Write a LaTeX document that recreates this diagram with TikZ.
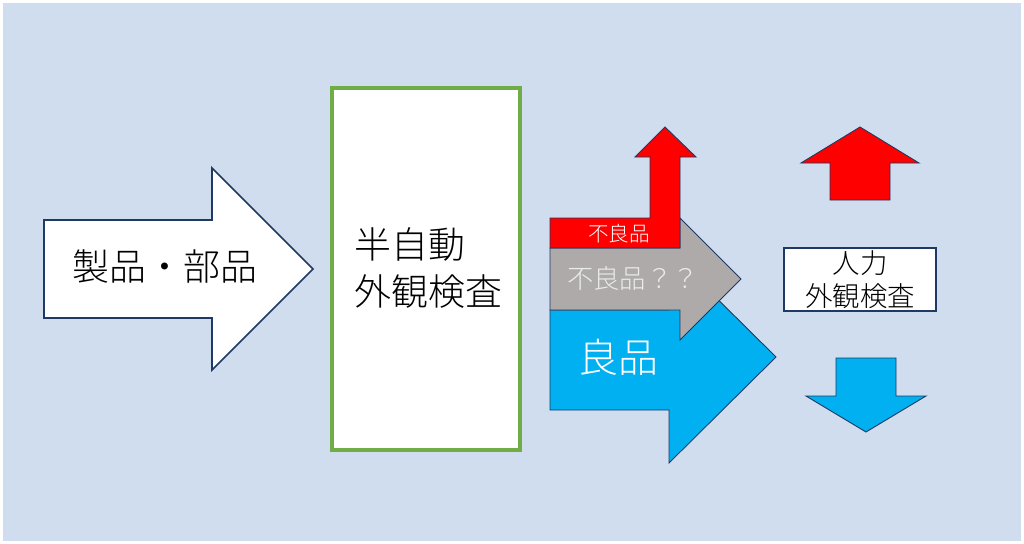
\documentclass[tikz,border=0pt]{standalone}
\usepackage{fontspec}
\setmainfont{Noto Sans CJK JP}[UprightFont=* Light]
\usepackage{tikz}
\usetikzlibrary{positioning}
\definecolor{bgblue}{RGB}{207,221,239}
\definecolor{navy}{RGB}{31,56,100}
\definecolor{okgreen}{RGB}{112,173,71}
\definecolor{okblue}{RGB}{0,176,240}
\definecolor{ngred}{RGB}{255,0,0}
\definecolor{qgray}{RGB}{174,170,170}
\tikzset{
  every picture/.append style={line join=miter},
  blockarrow/.style={draw=navy, line width=0.5pt},
  label/.style={inner sep=0pt, align=center}
}
\begin{document}
\begin{tikzpicture}[
  x=0.02cm, y=-0.02cm,
  frame/.style={draw=okgreen, line width=2.2pt, fill=white, minimum width=188*0.02cm, minimum height=362*0.02cm, inner sep=0pt},
  manual/.style={draw=navy, line width=1.2pt, fill=white, minimum width=152*0.02cm, minimum height=63*0.02cm, inner sep=0pt}
]
% background
\fill[white] (0,0) rectangle (1024,544);
\fill[bgblue] (3,3) rectangle (1021,541);

% input arrow
\draw[blockarrow, fill=white, line width=1pt]
  (44,220) -- (212,220) -- (212,168) -- (313,269) -- (212,370) -- (212,318) -- (44,318) -- cycle;
\node[label, font=\fontsize{21}{27}\selectfont] (parts) at (165,267) {製品・部品};

% semi-automatic inspection
\node[frame] (semi) at (426,269) {};
\node[label, align=left, anchor=west, font=\fontsize{21}{26.6}\selectfont] (semitext) at (354,268) {半自動\\外観検査};

% good parts
\draw[blockarrow, fill=okblue]
  (550,310) -- (669,310) -- (669,251) -- (776,357) -- (669,463) -- (669,410) -- (550,410) -- cycle;
\node[label, text=white, font=\fontsize{22.7}{27}\selectfont] (good) at (618,357) {良品};

% uncertain parts
\draw[blockarrow, fill=qgray]
  (550,248) -- (680,248) -- (680,218) -- (741,279) -- (680,340) -- (680,310) -- (550,310) -- cycle;
\node[label, text=white!92!black, font=\fontsize{15}{18}\selectfont] (unsure) at (633,278) {不良品？？};

% bad parts
\draw[blockarrow, fill=ngred]
  (550,248) -- (680,248) -- (680,157) -- (696,157) -- (665,127) -- (635,157) -- (650,157) -- (650,218) -- (550,218) -- cycle;
\node[label, text=white, font=\fontsize{11.7}{14}\selectfont] (bad) at (619,234) {不良品};

% manual inspection
\node[manual] (hand) at (860,279.5) {};
\node[label, font=\fontsize{15.6}{18.7}\selectfont] (handtext) at (hand.center) {人力\\外観検査};

% up / down results
\draw[blockarrow, fill=ngred]
  (830,200) -- (830,163) -- (801,163) -- (860,127) -- (919,163) -- (890,163) -- (890,200) -- cycle;
\draw[blockarrow, fill=okblue]
  (836,358) -- (896,358) -- (896,396) -- (926,396) -- (866,432) -- (806,396) -- (836,396) -- cycle;
\end{tikzpicture}
\end{document}
